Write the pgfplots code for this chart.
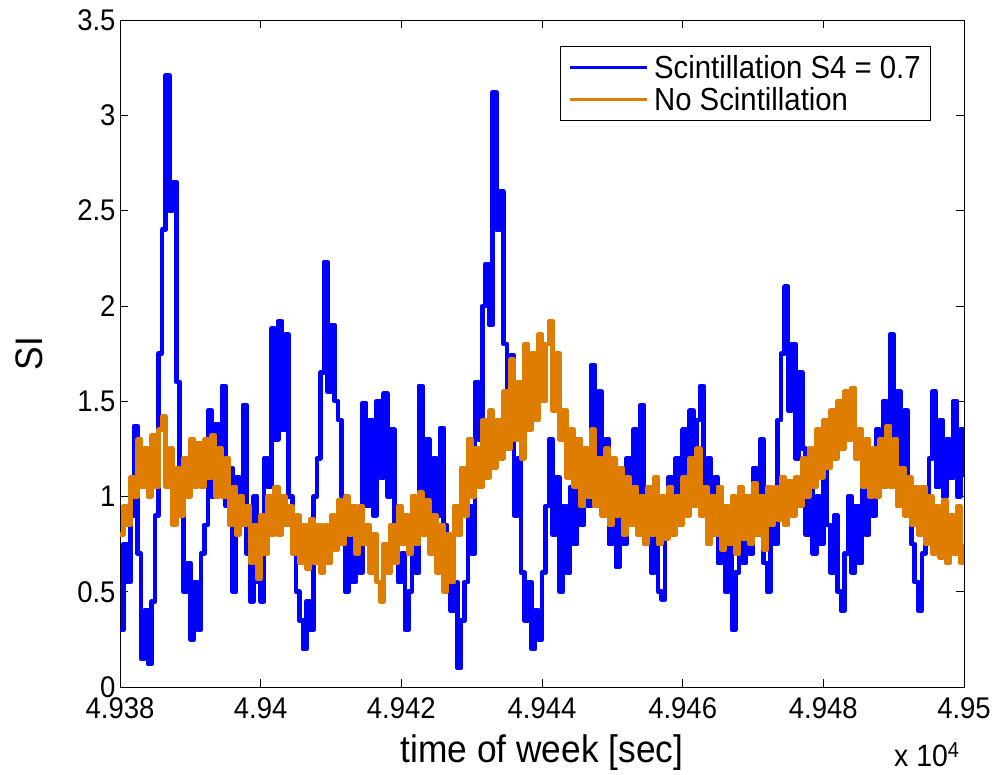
\documentclass[border=0pt]{standalone}
\usepackage{pgfplots}
\pgfplotsset{compat=1.18}
\usepackage{pgfplotstable}
\usepackage{fontspec}
\setmainfont{Liberation Sans}[FakeStretch=0.92]
\definecolor{mblue}{RGB}{0,0,255}
\definecolor{morange}{RGB}{222,125,0}
\pgfplotstableread{
t blue orange
0 0.30 0.80
0.5 0.75 0.95
1 0.55 0.85
1.5 0.90 1.10
2 1.37 1.00
2.5 0.70 1.30
3 0.15 1.05
3.5 0.40 1.25
4 0.12 1.00
4.5 0.45 1.32
5 0.90 1.05
5.5 1.75 1.35
6 2.40 1.42
6.5 3.21 1.05
7 2.50 1.25
7.5 2.65 0.85
8 1.60 1.15
8.5 0.95 0.90
9 0.50 1.20
9.5 0.65 1.00
10 0.25 1.30
10.5 0.55 1.05
11 0.30 1.28
11.5 0.70 1.05
12 0.85 1.30
12.5 1.45 1.10
13 1.00 1.32
13.5 1.38 1.00
14 1.05 1.25
14.5 1.58 1.00
15 0.95 1.20
15.5 1.15 0.85
16 0.50 1.05
16.5 1.10 0.80
17 0.85 1.00
17.5 1.48 0.85
18 0.70 0.95
18.5 0.45 0.65
19 1.00 0.85
19.5 0.55 0.57
20 0.45 0.90
20.5 1.20 0.70
21 1.05 1.00
21.5 1.88 0.80
22 1.30 1.05
22.5 1.92 0.80
23 1.35 1.00
23.5 1.85 0.85
24 1.00 0.95
24.5 0.80 0.70
25 0.50 0.90
25.5 0.35 0.65
26 0.20 0.85
26.5 0.45 0.62
27 0.30 0.88
27.5 1.00 0.65
28 1.20 0.85
28.5 1.65 0.60
29 2.23 0.85
29.5 1.55 0.65
30 1.90 0.90
30.5 1.50 0.72
31 1.40 0.98
31.5 1.00 0.75
32 0.50 1.00
32.5 0.85 0.80
33 0.55 0.95
33.5 0.90 0.70
34 0.60 0.95
34.5 1.49 0.75
35 0.95 0.85
35.5 1.40 0.60
36 0.90 0.80
36.5 1.50 0.55
37 1.10 0.45
37.5 1.54 0.75
38 1.00 0.60
38.5 1.35 0.85
39 0.85 0.65
39.5 0.55 0.95
40 0.70 0.75
40.5 0.30 0.90
41 0.50 0.70
41.5 0.80 1.00
42 0.60 0.75
42.5 1.58 1.02
43 1.00 0.80
43.5 1.30 0.98
44 0.80 0.70
44.5 1.20 0.90
45 0.90 0.60
45.5 1.36 0.85
46 0.85 0.50
46.5 0.70 0.80
47 0.40 0.55
47.5 0.55 0.95
48 0.10 0.80
48.5 0.35 1.15
49 0.55 0.90
49.5 0.95 1.30
50 0.70 1.00
50.5 1.60 1.25
51 1.30 1.05
51.5 2.00 1.40
52 2.22 1.10
52.5 1.90 1.45
53 3.12 1.15
53.5 2.40 1.40
54 2.60 1.20
54.5 1.80 1.55
55 1.55 1.25
55.5 1.74 1.72
56 0.90 1.30
56.5 1.20 1.60
57 0.60 1.20
57.5 0.35 1.80
58 0.55 1.35
58.5 0.20 1.75
59 0.40 1.40
59.5 0.25 1.85
60 0.60 1.50
60.5 0.95 1.80
61 1.30 1.92
61.5 0.80 1.45
62 1.10 1.75
62.5 0.50 1.30
63 0.95 1.45
63.5 0.60 1.10
64 1.05 1.35
64.5 0.75 1.05
65 1.30 1.30
65.5 0.85 0.95
66 1.20 1.25
66.5 0.95 1.00
67 1.69 1.35
67.5 1.10 0.95
68 1.55 1.20
68.5 0.95 0.90
69 1.30 1.25
69.5 0.75 0.85
70 1.10 1.20
70.5 0.63 0.90
71 0.90 1.15
71.5 0.75 0.80
72 1.20 1.10
72.5 0.90 0.85
73 1.35 1.05
73.5 1.00 0.80
74 1.48 1.00
74.5 0.85 0.75
75 0.95 1.05
75.5 0.60 0.80
76 0.80 1.10
76.5 0.50 0.75
77 0.46 1.00
77.5 0.85 0.78
78 1.10 1.05
78.5 0.90 0.80
79 1.20 1.00
79.5 0.95 0.85
80 1.35 1.10
80.5 1.05 0.90
81 1.45 1.20
81.5 1.10 0.95
82 1.40 1.25
82.5 1.58 0.90
83 0.95 1.05
83.5 1.20 0.75
84 0.80 1.00
84.5 1.10 0.80
85 0.65 1.05
85.5 0.90 0.72
86 0.50 0.95
86.5 0.75 0.75
87 0.30 1.00
87.5 0.60 0.70
88 0.90 1.05
88.5 0.65 0.78
89 1.00 1.00
89.5 0.70 0.75
90 1.15 1.07
90.5 0.80 0.80
91 1.30 1.00
91.5 0.65 0.72
92 0.50 1.05
92.5 1.00 0.85
93 0.75 1.05
93.5 1.40 0.88
94 1.75 1.10
94.5 2.10 0.85
95 1.45 1.08
95.5 1.80 0.90
96 1.20 1.10
96.5 1.65 0.95
97 1.25 1.20
97.5 0.80 1.00
98 1.10 1.25
98.5 0.70 1.05
99 1.00 1.35
99.5 0.75 1.10
100 1.20 1.40
100.5 0.85 1.15
101 0.60 1.45
101.5 0.90 1.20
102 0.50 1.50
102.5 0.40 1.25
103 0.70 1.55
103.5 1.00 1.30
104 0.60 1.57
104.5 0.95 1.20
105 0.65 1.35
105.5 1.15 1.05
106 0.80 1.30
106.5 1.20 1.00
107 0.90 1.25
107.5 1.35 1.00
108 1.05 1.30
108.5 1.50 1.05
109 1.10 1.37
109.5 1.85 1.05
110 1.20 1.30
110.5 1.55 0.95
111 1.10 1.15
111.5 1.45 0.90
112 1.00 1.10
112.5 0.75 0.85
113 0.55 1.05
113.5 0.40 0.80
114 0.70 1.05
114.5 0.95 0.75
115 1.20 1.00
115.5 1.55 0.70
116 1.05 0.95
116.5 1.40 0.68
117 1.00 0.98
117.5 1.30 0.65
118 1.10 0.90
118.5 1.50 0.70
119 1.00 0.95
119.5 1.35 0.65
120 1.10 0.75
}\datatable
\begin{document}
\begin{tikzpicture}
\path (-120bp,-86bp) rectangle (876bp,687bp);
\begin{axis}[
  scale only axis,
  width=844bp, height=667bp,
  xmin=49380, xmax=49500, ymin=0, ymax=3.5,
  xtick={49380,49400,49420,49440,49460,49480,49500},
  xticklabels={4.938,4.94,4.942,4.944,4.946,4.948,4.95},
  scaled x ticks=false,
  ytick={0,0.5,1,1.5,2,2.5,3,3.5},
  yticklabels={0,0.5,1,1.5,2,2.5,3,3.5},
  tick align=inside,
  major tick length=8bp,
  tick style={black, line width=0.6bp},
  axis line style={black, line width=0.8bp},
  tick label style={font=\fontsize{30}{34}\selectfont},
  xticklabel style={yshift=-7bp},
  yticklabel style={xshift=-1bp},
  /pgf/number format/assume math mode=true,
  xlabel={time of week [sec]},
  ylabel={SI},
  label style={font=\fontsize{38.5}{44}\selectfont},
  xlabel style={at={(axis description cs:0.5,-0.099)}, anchor=center},
  ylabel style={at={(axis description cs:-0.107,0.5)}, anchor=center},
  legend style={at={(axis description cs:0.961,0.961)}, anchor=north east,
    font=\fontsize{32}{36}\selectfont, draw=black, line width=0.8bp,
    inner xsep=8bp, inner ysep=7bp, row sep=3bp},
  legend cell align=left,
  legend image code/.code={\draw[#1, line width=3bp] (0bp,0bp) -- (77bp,0bp);},
  clip mode=individual,
]
\addplot[mblue, line width=4.6bp, const plot, line join=round] table[x expr=\thisrow{t}+49380, y=blue] {\datatable};
\addlegendentry{\hspace{4bp}Scintillation S4 = 0.7}
\addplot[morange, line width=4.6bp, const plot, line join=round] table[x expr=\thisrow{t}+49380, y=orange] {\datatable};
\addlegendentry{\hspace{4bp}No Scintillation}
\node[font=\fontsize{31}{34}\selectfont, anchor=center] at (axis description cs:0.956,-0.102) {x 10\textsuperscript{4}};
\end{axis}
\end{tikzpicture}
\end{document}
